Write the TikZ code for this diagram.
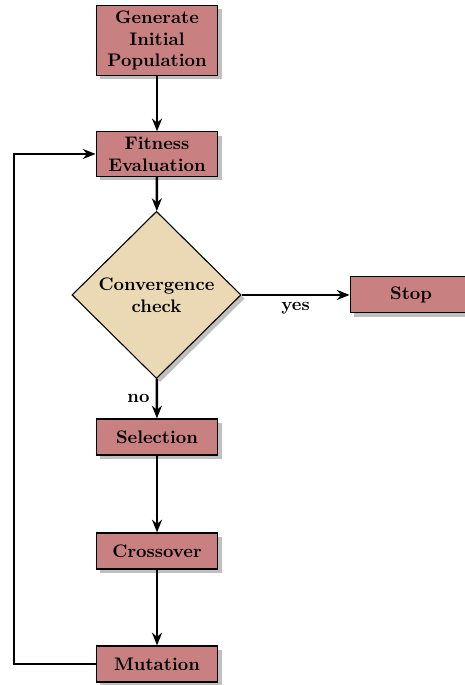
\documentclass[tikz,border=0pt]{standalone}
\usepackage{tikz}
\usetikzlibrary{positioning,calc,shapes.geometric,shadows,arrows.meta}

\definecolor{boxred}{RGB}{200,128,128}
\definecolor{decisionsand}{RGB}{234,217,180}

\tikzset{
	stepbox/.style={shape=rectangle,draw=black,semithick,fill=boxred,font=\bfseries,align=center,
		text width=58pt,minimum width=67pt,minimum height=19.8pt,inner ysep=2.7pt,
		drop shadow={shadow xshift=2pt,shadow yshift=-2pt,fill=black!25,opacity=1}},
	checkbox/.style={shape=diamond,draw=black,semithick,fill=decisionsand,font=\bfseries,align=center,
		minimum width=93pt,minimum height=92pt,inner sep=0pt,
		drop shadow={shadow xshift=2pt,shadow yshift=-2pt,fill=black!25,opacity=1}},
	flow/.style={-{Stealth[length=7pt,width=5.5pt]},line width=1.4pt}
}

\begin{document}
\begin{tikzpicture}
				\useasboundingbox (0,0) rectangle (8.97,13.24);
				\node[stepbox] (gen) at (3.035,12.458) {Generate\\Initial\\Population};
				\node[stepbox] (fit) at (3.035,10.264) {Fitness\\Evaluation};
				\node[checkbox] (conv) at (3.025,7.539) {Convergence\\check};
				\node[stepbox] (stop) at (7.945,7.539) {Stop};
				\node[stepbox] (sel) at (3.035,4.794) {Selection};
				\node[stepbox] (cross) at (3.035,2.590) {Crossover};
				\node[stepbox] (mut) at (3.035,0.406) {Mutation};
				\coordinate (loopb) at (0.271,0.406);
				\coordinate (loopt) at (0.271,10.264);

				\draw[flow] (gen) -- (fit);
				\draw[flow] (fit) -- (conv);
				\draw[flow] (conv) -- node[below,font=\bfseries] {yes} (stop);
				\draw[flow] (conv) -- node[left,font=\bfseries] {no} (sel);
				\draw[flow] (sel) -- (cross);
				\draw[flow] (cross) -- (mut);
				\draw[flow] (mut) -- (loopb) -- (loopt) -- (fit);
			\end{tikzpicture}
\end{document}
